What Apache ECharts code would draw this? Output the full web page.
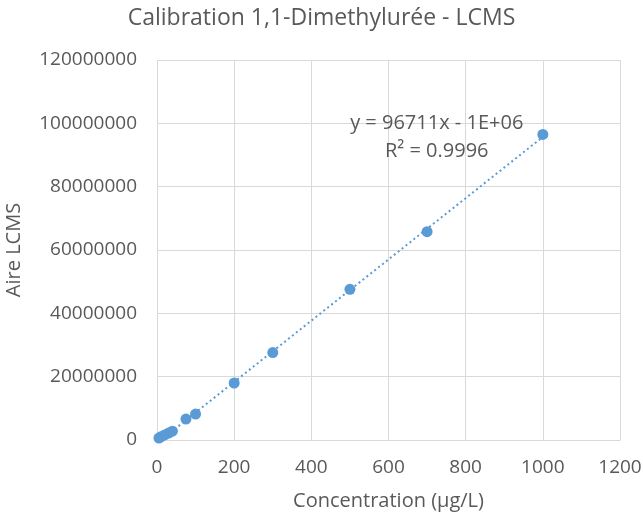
<!DOCTYPE html>
<html>
<head>
<meta charset="utf-8">
<script src="https://cdn.jsdelivr.net/npm/echarts@6/dist/echarts.min.js"></script>
<style>html,body{margin:0;padding:0;background:#fff}#c{width:643px;height:516px}</style>
</head>
<body>
<div id="c"></div>
<script>
const concentrations = [5, 10, 20, 30, 40, 75, 100, 200, 300, 500, 700, 1000];
const areas = [600000, 1000000, 1600000, 2200000, 2800000, 6600000, 8200000, 18000000, 27600000, 47600000, 65800000, 96500000];
const xTicks = [0, 200, 400, 600, 800, 1000, 1200];
const yTicks = [0, 20000000, 40000000, 60000000, 80000000, 100000000, 120000000];
const slope = 96711;
const intercept = -1000000;
const titleText = 'Calibration 1,1-Dimethylurée - LCMS';
const xName = 'Concentration (µg/L)';
const yName = 'Aire LCMS';
const eqLines = ['y = 96711x - 1E+06', 'R² = 0.9996'];

const xMin = Math.min(...concentrations), xMax = Math.max(...concentrations);
const trend = [[xMin, slope * xMin + intercept], [xMax, slope * xMax + intercept]];
const points = concentrations.map((c, i) => [c, areas[i]]);

const font = 'Open Sans';
const grey = '#595959';
const blue = '#5b9bd5';
const chart = echarts.init(document.getElementById('c'), null, {renderer: 'canvas'});
chart.setOption({
  animation: false,
  title: {text: titleText, left: 'center', top: 2,
    textStyle: {fontFamily: font, fontSize: 23, fontWeight: 'normal', color: grey}},
  grid: {left: 157, right: 23, top: 60, bottom: 76, containLabel: false, outerBoundsMode: 'none'},
  xAxis: {type: 'value', min: xTicks[0], max: xTicks[xTicks.length - 1], interval: 200,
    name: xName, nameLocation: 'middle', nameGap: 51,
    nameTextStyle: {fontFamily: font, fontSize: 20, color: grey},
    axisLine: {show: true, lineStyle: {color: '#d9d9d9', width: 1}},
    axisTick: {show: false},
    axisLabel: {fontFamily: font, fontSize: 19, color: grey, margin: 18, formatter: v => String(v)},
    splitLine: {show: true, lineStyle: {color: '#d9d9d9', width: 1}}},
  yAxis: {type: 'value', min: yTicks[0], max: yTicks[yTicks.length - 1], interval: 20000000,
    name: yName, nameLocation: 'middle', nameGap: 133, nameRotate: 90,
    nameTextStyle: {fontFamily: font, fontSize: 20, color: grey},
    axisLine: {show: false}, axisTick: {show: false},
    axisLabel: {fontFamily: font, fontSize: 19, color: grey, margin: 20, formatter: v => String(v)},
    splitLine: {show: true, lineStyle: {color: '#d9d9d9', width: 1}}},
  series: [
    {type: 'line', data: trend, symbol: 'none', silent: true, z: 1,
      lineStyle: {color: blue, width: 2, type: [2, 3]}},
    {type: 'scatter', data: points, symbol: 'circle', symbolSize: 11, z: 2,
      itemStyle: {color: blue, opacity: 1}}
  ]
});
const p = chart.convertToPixel({gridIndex: 0}, [725, 100000000]);
chart.setOption({graphic: [
  {type: 'text', x: p[0], y: p[1] - 14, z: 10,
    style: {text: eqLines[0] + '\n' + eqLines[1], align: 'center', verticalAlign: 'top', lineHeight: 28,
      fontFamily: font, fontSize: 20, fill: grey}}
]});
</script>
</body>
</html>
